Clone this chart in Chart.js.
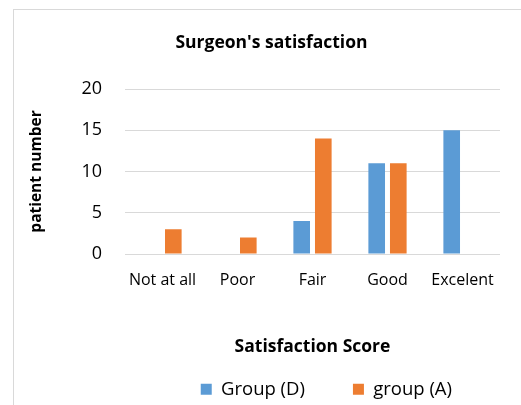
<!DOCTYPE html>
<html>
<head>
<meta charset="utf-8">
<script src="https://cdn.jsdelivr.net/npm/chart.js@4"></script>
<style>
  html, body { margin: 0; padding: 0; background: #ffffff; overflow: hidden; }
  #frame { position: absolute; left: 13px; top: 9px; width: 600px; height: 500px; border: 1px solid #d9d9d9; box-sizing: border-box; }
  #wrap { position: absolute; left: 0; top: 0; width: 521px; height: 405px; }
</style>
</head>
<body>
<div id="frame"></div>
<div id="wrap"><canvas id="c" width="521" height="405"></canvas></div>
<script>
const chartTitle = "Surgeon's satisfaction";
const xAxisTitle = "Satisfaction Score";
const yAxisTitle = "patient number";
const categories = ["Not at all", "Poor", "Fair", "Good", "Excelent"];
const seriesNames = ["Group (D)", "group (A)"];
const groupD = [0, 0, 4, 11, 15];
const groupA = [3, 2, 14, 11, 0];
const yTicks = [0, 5, 10, 15, 20];

const FONT = "'Open Sans', 'DejaVu Sans', sans-serif";

new Chart(document.getElementById('c'), {
  type: 'bar',
  data: {
    labels: categories,
    datasets: [
      { label: seriesNames[0], data: groupD, backgroundColor: '#5B9BD5', borderWidth: 0,
        barPercentage: 0.77, categoryPercentage: 0.576 },
      { label: seriesNames[1], data: groupA, backgroundColor: '#ED7D31', borderWidth: 0,
        barPercentage: 0.77, categoryPercentage: 0.576 }
    ]
  },
  options: {
    responsive: false,
    animation: false,
    devicePixelRatio: 1,
    layout: { padding: { left: 43, right: 21, top: 0, bottom: 0 } },
    plugins: {
      title: {
        display: true, text: chartTitle, color: '#000',
        font: { family: FONT, size: 17.5, weight: 'bold', lineHeight: 1.2 },
        padding: { top: 33, bottom: 35 }
      },
      legend: {
        position: 'bottom', align: 'end', maxHeight: 73,
        labels: {
          color: '#000', boxWidth: 11, boxHeight: 11, padding: 48,
          font: { family: FONT, size: 18.5 }
        }
      },
      tooltip: { enabled: false }
    },
    scales: {
      x: {
        grid: { display: false },
        border: { display: false },
        ticks: { color: '#000', padding: 9, font: { family: FONT, size: 16 }, maxRotation: 0 },
        title: { display: true, text: xAxisTitle, color: '#000',
          font: { family: FONT, size: 17.5, weight: 'bold', lineHeight: 1.2 },
          padding: { top: 0, bottom: -25.5 } },
        afterFit: (s) => { s.height = 78; }
      },
      y: {
        min: 0, max: 20,
        afterBuildTicks: (s) => { s.ticks = yTicks.map(v => ({ value: v })); },
        grid: { color: '#d9d9d9', lineWidth: 1, drawTicks: false },
        border: { display: false },
        ticks: { color: '#000', padding: 23, font: { family: FONT, size: 18 } },
        title: { display: true, text: yAxisTitle, color: '#000',
          font: { family: FONT, size: 15.5, weight: 'bold', lineHeight: 1.2 },
          padding: { top: -15.8, bottom: 0 } },
        afterFit: (s) => { s.width = 82; }
      }
    }
  }
});
</script>
</body>
</html>
